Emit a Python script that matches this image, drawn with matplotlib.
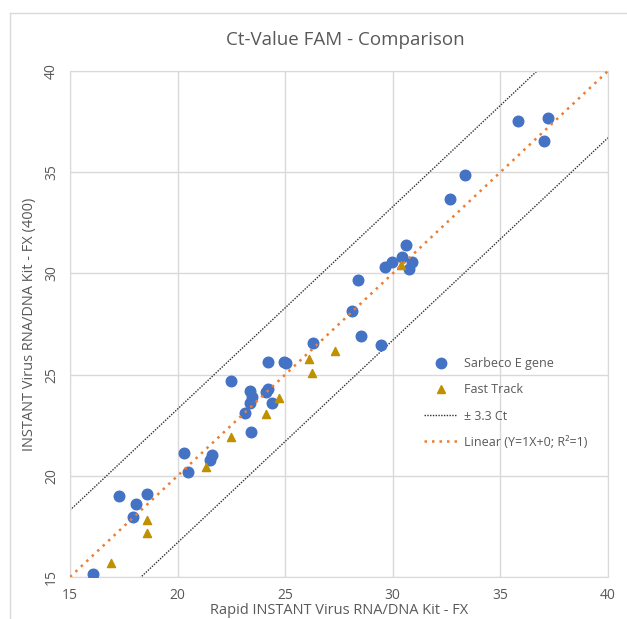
import numpy as np
import matplotlib.pyplot as plt
from matplotlib.lines import Line2D

# Sarbeco E gene (x = Rapid kit, y = FX (400))
sarbeco_x = [16.08, 17.28, 18.60, 18.05, 17.93, 20.30, 20.50, 21.60, 21.52, 22.50,
             23.36, 23.47, 23.36, 23.13, 23.41, 24.11, 24.22, 24.39, 24.22, 24.94,
             25.04, 26.28, 28.09, 28.37, 28.51, 29.44, 29.65, 29.96, 30.41, 30.60,
             30.88, 30.77, 32.66, 33.36, 35.82, 37.01, 37.21]
sarbeco_y = [15.15, 18.99, 19.10, 18.62, 17.95, 21.11, 20.17, 21.04, 20.76, 24.67,
             24.20, 23.91, 23.61, 23.09, 22.16, 24.16, 24.30, 23.58, 25.62, 25.62,
             25.56, 26.58, 28.16, 29.66, 26.92, 26.45, 30.30, 30.58, 30.83, 31.39,
             30.55, 30.22, 33.69, 34.86, 37.54, 36.53, 37.66]

# Fast Track
fast_x = [16.92, 18.56, 18.60, 21.30, 22.50, 24.11, 24.70, 26.12, 26.23, 27.30, 30.37]
fast_y = [15.68, 17.83, 17.16, 20.43, 21.93, 23.05, 23.84, 25.76, 25.06, 26.18, 30.42]

ct_band = 3.3
line_x = np.array([15, 40])

gray_text = '#595959'
plt.rcParams['font.family'] = ['Open Sans', 'DejaVu Sans']

fig = plt.figure(figsize=(6.27, 6.19), dpi=100)
ax = fig.add_axes([70 / 627, 42 / 619, 538 / 627, 506 / 619])

# outer chart border (top and left visible)
fig.add_artist(Line2D([10 / 627, 10 / 627], [0, 1 - 13 / 619], color='#D9D9D9', lw=1.0))
fig.add_artist(Line2D([10 / 627, 1], [1 - 13 / 619, 1 - 13 / 619], color='#D9D9D9', lw=1.0))

ax.plot(line_x, line_x + ct_band, color='#303030', ls=(0, (1, 1)), lw=1.0, zorder=2)
ax.plot(line_x, line_x - ct_band, color='#303030', ls=(0, (1, 1)), lw=1.0, zorder=2)
ax.plot(line_x, line_x, color='#ED7D31', ls=(0, (1, 2)), lw=1.8, zorder=4)

ax.scatter(sarbeco_x, sarbeco_y, s=58, color='#4472C4', zorder=3)
ax.scatter(fast_x, fast_y, s=34, marker='^', color='#BF9000', zorder=3)

ax.set_xlim(15, 40)
ax.set_ylim(15, 40)
ax.set_xticks([15, 20, 25, 30, 35, 40])
ax.set_yticks([15, 20, 25, 30, 35, 40])
ax.grid(True, color='#D9D9D9', lw=1.0)
ax.set_axisbelow(True)
for s in ax.spines.values():
    s.set_color('#D9D9D9')
ax.tick_params(length=0, labelsize=10, labelcolor=gray_text, pad=8)
for lab in ax.get_yticklabels():
    lab.set_rotation(90)
    lab.set_va('center')

ax.set_xlabel('Rapid INSTANT Virus RNA/DNA Kit - FX', fontsize=10.5, color=gray_text, labelpad=0)
ax.set_ylabel('INSTANT Virus RNA/DNA Kit - FX (400)', fontsize=10.5, color=gray_text, labelpad=5)
fig.text(345 / 627, 1 - 40 / 619, 'Ct-Value FAM - Comparison', fontsize=13.5,
         color=gray_text, ha='center', va='center')

handles = [
    Line2D([], [], marker='o', ls='none', color='#4472C4', markersize=7.5),
    Line2D([], [], marker='^', ls='none', color='#BF9000', markersize=6),
    Line2D([], [], color='#303030', ls=(0, (1, 1)), lw=1.0),
    Line2D([], [], color='#ED7D31', ls=(0, (1, 2)), lw=1.8),
]
labels = ['Sarbeco E gene', 'Fast Track', '± 3.3 Ct', 'Linear (Y=1X+0; R²=1)']
leg = ax.legend(handles, labels, loc='upper left',
                bbox_to_anchor=((413 - 70) / 538, 1 - (346 - 71) / 506),
                frameon=False, fontsize=9, labelcolor=gray_text, handlelength=2.6,
                labelspacing=1.05, handletextpad=0.6)

fig.savefig('out.png', dpi=100)
